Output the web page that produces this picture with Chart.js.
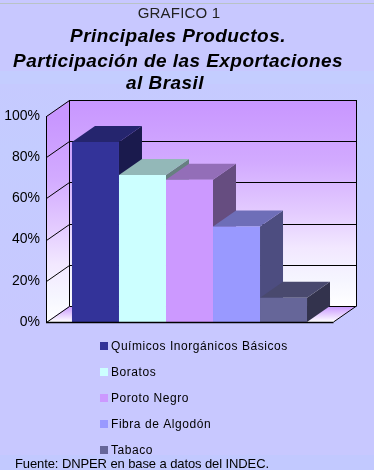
<!DOCTYPE html>
<html>
<head>
<meta charset="utf-8">
<title>Grafico 1</title>
<script src="https://cdn.jsdelivr.net/npm/chart.js@4"></script>
<style>
  html, body { margin: 0; padding: 0; }
  body {
    width: 374px; height: 470px; overflow: hidden;
    background: linear-gradient(to bottom,
      #c8c8ff 0, #c8c8ff 3px, #b9c3c6 3px, #b9c3c6 4px, #c8c8ff 4px, #c8c8ff 71px,
      #c4cdff 71px, #c4cdff 84px, #c6caff 84px, #c4ccff 150px, #c8c8ff 330px, #c8c8ff 455px,
      #c2c9ff 455px, #c2c9ff 470px);
  }
  canvas { display: block; }
</style>
</head>
<body>
<div style="width:374px;height:470px"><canvas id="grafico"></canvas></div>
<script>
const tituloChico = "GRAFICO 1";
const tituloLineas = ["Principales Productos.", "Participación de las Exportaciones", "al Brasil"];
const fuente = "Fuente: DNPER en base a datos del INDEC.";
const productos = ["Químicos Inorgánicos Básicos", "Boratos", "Poroto Negro", "Fibra de Algodón", "Tabaco"];
const valores = [87.4, 71.3, 69, 46.3, 11.8];
const colores = ["#333399", "#ccffff", "#cc99ff", "#9999ff", "#666699"];
const ticksY = [0, 20, 40, 60, 80, 100];

// profundidad del efecto 3D
const DX = 23, DY = 16;

function oscurecer(hex, f) {
  const n = parseInt(hex.slice(1), 16);
  return "rgb(" + [n >> 16, (n >> 8) & 255, n & 255].map(c => Math.round(c * f)).join(",") + ")";
}

function poligono(ctx, puntos, relleno) {
  ctx.beginPath();
  puntos.forEach((p, i) => i ? ctx.lineTo(p[0], p[1]) : ctx.moveTo(p[0], p[1]));
  ctx.closePath();
  if (relleno) { ctx.fillStyle = relleno; ctx.fill(); }
}

function linea(ctx, x1, y1, x2, y2, ancho) {
  ctx.lineWidth = ancho || 1;
  ctx.strokeStyle = "#000";
  ctx.beginPath();
  ctx.moveTo(x1, y1);
  ctx.lineTo(x2, y2);
  ctx.stroke();
}

function degradePared(ctx, y0, y1) {
  const g = ctx.createLinearGradient(0, y0, 0, y1);
  g.addColorStop(0, "#c896ff");
  g.addColorStop(0.3, "#d2aaff");
  g.addColorStop(0.55, "#e4ccff");
  g.addColorStop(0.72, "#f2e8ff");
  g.addColorStop(0.88, "#f6f6ff");
  g.addColorStop(1, "#ffffff");
  return g;
}

// caja del grafico y caras laterales de las barras
const caja3d = {
  id: "caja3d",
  beforeDatasetsDraw(chart) {
    const ctx = chart.ctx, a = chart.chartArea, y = chart.scales.y;
    const l = a.left + 0.5, r = a.right + 0.5, t = y.getPixelForValue(100), b = y.getPixelForValue(0);
    ctx.save();
    poligono(ctx, [[l, t], [l + DX, t - DY], [l + DX, b - DY], [l, b]], degradePared(ctx, t, b));
    poligono(ctx, [[l + DX, t - DY], [r + DX, t - DY], [r + DX, b - DY], [l + DX, b - DY]], degradePared(ctx, t - DY, b - DY));
    const piso = ctx.createLinearGradient(0, b - DY, 0, b);
    piso.addColorStop(0, "#c896ff");
    piso.addColorStop(1, "#ffffff");
    poligono(ctx, [[l, b], [l + DX, b - DY], [r + DX, b - DY], [r, b]], piso);

    ticksY.forEach(v => {
      const py = Math.round(y.getPixelForValue(v)) + 0.5;
      linea(ctx, l, py, l + DX, py - DY);
      linea(ctx, l + DX, py - DY, r + DX, py - DY);
    });
    linea(ctx, l, t, l, b);
    linea(ctx, l + DX, t - DY, l + DX, b - DY);
    linea(ctx, r + DX, t - DY, r + DX, b - DY);
    linea(ctx, r, b, r + DX, b - DY);

    chart.data.datasets.forEach((ds, i) => {
      const bar = chart.getDatasetMeta(i).data[0];
      const x0 = bar.x - bar.width / 2, x1 = bar.x + bar.width / 2;
      poligono(ctx, [[x1, bar.y], [x1 + DX, bar.y - DY], [x1 + DX, bar.base - DY], [x1, bar.base]], oscurecer(ds.backgroundColor, 0.5));
      poligono(ctx, [[x0, bar.y], [x0 + DX, bar.y - DY], [x1 + DX, bar.y - DY], [x1, bar.y]], oscurecer(ds.backgroundColor, 0.72));
    });
    ctx.restore();
  },
  afterDatasetsDraw(chart) {
    const a = chart.chartArea, b = Math.round(chart.scales.y.getPixelForValue(0)) + 0.5;
    chart.ctx.save();
    linea(chart.ctx, a.left, b, a.right + 0.5, b, 1.5);
    chart.ctx.restore();
  }
};

// titulos, leyenda y fuente
const textos = {
  id: "textos",
  afterDraw(chart) {
    const ctx = chart.ctx;
    ctx.save();
    ctx.textBaseline = "alphabetic";
    ctx.fillStyle = "#000";
    ctx.textAlign = "center";
    ctx.font = '15px "Liberation Sans", Arial, sans-serif';
    ctx.letterSpacing = "0.2px";
    ctx.fillStyle = "#222";
    ctx.fillText(tituloChico, 179, 18);
    ctx.fillStyle = "#000";
    ctx.font = 'italic bold 19px "Liberation Sans", Arial, sans-serif';
    ctx.letterSpacing = "0.45px";
    ctx.fillText(tituloLineas[0], 178, 42);
    ctx.fillText(tituloLineas[1], 178, 67);
    ctx.fillText(tituloLineas[2], 165, 89);

    ctx.textAlign = "left";
    ctx.font = '12px "Liberation Sans", Arial, sans-serif';
    ctx.letterSpacing = "0.55px";
    chart.data.datasets.forEach((ds, i) => {
      const cy = 345.5 + i * 26;
      ctx.fillStyle = ds.backgroundColor;
      ctx.fillRect(100, Math.round(cy - 4), 8, 8);
      ctx.fillStyle = "#000";
      ctx.fillText(ds.label, 111, cy + 4);
    });
    ctx.font = '13px "Liberation Sans", Arial, sans-serif';
    ctx.letterSpacing = "-0.1px";
    ctx.fillText(fuente, 15, 468);
    ctx.restore();
  }
};

new Chart(document.getElementById("grafico").getContext("2d"), {
  type: "bar",
  data: {
    labels: [""],
    datasets: productos.map((p, i) => ({
      label: p,
      data: [valores[i]],
      backgroundColor: colores[i],
      borderWidth: 0,
      categoryPercentage: 0.819,
      barPercentage: 1
    }))
  },
  options: {
    responsive: true,
    maintainAspectRatio: false,
    animation: false,
    layout: { padding: { left: 0, right: 41, top: 116, bottom: 148 } },
    plugins: { legend: { display: false }, title: { display: false }, tooltip: { enabled: false } },
    scales: {
      x: { display: false },
      y: {
        min: 0,
        max: 100,
        afterFit(s) { s.width = 46; },
        afterBuildTicks(s) { s.ticks = ticksY.map(v => ({ value: v })); },
        grid: { display: false, drawTicks: false },
        border: { display: false },
        ticks: {
          padding: 6,
          color: "#000",
          font: { family: '"Liberation Sans", Arial, sans-serif', size: 14 },
          callback: v => v + "%"
        }
      }
    }
  },
  plugins: [caja3d, textos]
});
</script>
</body>
</html>
